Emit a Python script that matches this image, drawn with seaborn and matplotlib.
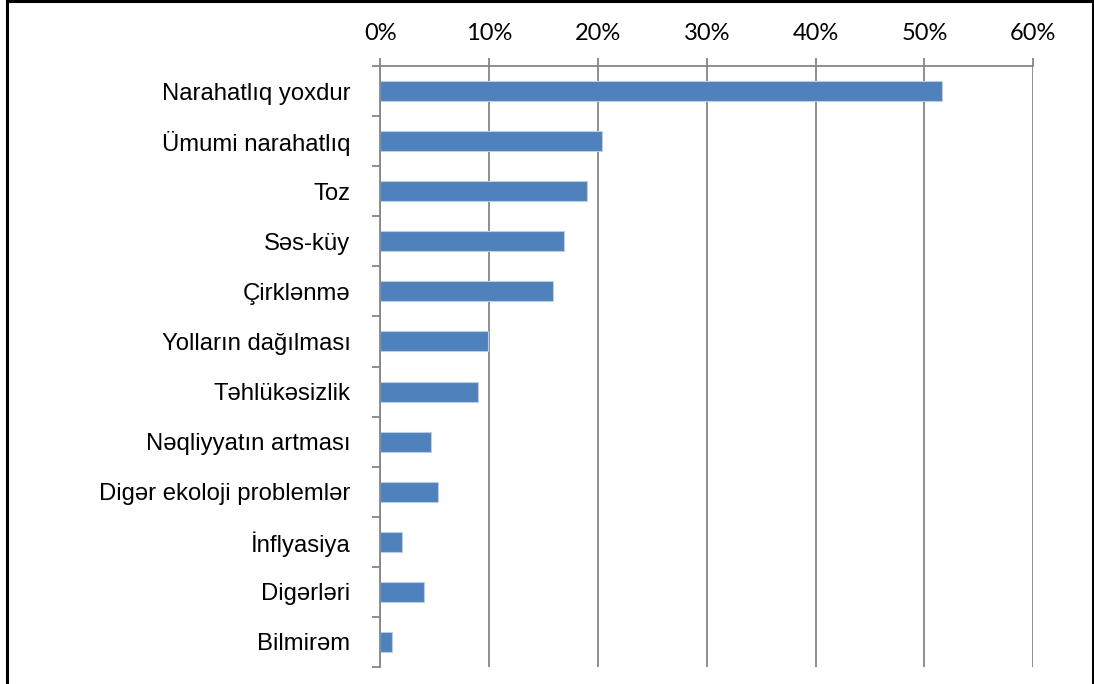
import matplotlib
matplotlib.use("Agg")
import matplotlib.pyplot as plt
import seaborn as sns
import numpy as np
import pandas as pd
from matplotlib.ticker import FixedLocator, PercentFormatter
from matplotlib.lines import Line2D

categories = ["Narahatlıq yoxdur", "Ümumi narahatlıq", "Toz", "Səs-küy", "Çirklənmə",
              "Yolların dağılması", "Təhlükəsizlik", "Nəqliyyatın artması",
              "Digər ekoloji problemlər", "İnflyasiya", "Digərləri", "Bilmirəm"]
values = [51.6, 20.4, 19.0, 16.9, 15.9, 9.9, 9.0, 4.7, 5.3, 2.0, 4.0, 1.1]
xticks = [0, 10, 20, 30, 40, 50, 60]

sns.set_theme(style="white")
plt.rcParams['font.family'] = ['Liberation Sans', 'DejaVu Sans']
plt.rcParams['text.color'] = 'black'
plt.rcParams['xtick.labelcolor'] = 'black'
plt.rcParams['ytick.labelcolor'] = 'black'

df = pd.DataFrame({"cat": categories, "val": values})

fig = plt.figure(figsize=(10.94, 6.84), dpi=100)
ax = fig.add_axes([380.3/1094, 1-667/684, (1033.3-380.3)/1094, (667-66)/684])

sns.barplot(data=df, x="val", y="cat", color="#4F81BD", saturation=1, width=0.4,
            edgecolor="#B9CDE5", linewidth=0.8, ax=ax, orient="h")

grid_c = "#868686"
ax.set_xlim(0, 60)
ax.set_ylim(len(categories) - 0.5, -0.5)
ax.xaxis.set_ticks_position("top")
ax.xaxis.set_label_position("top")
ax.set_xticks(xticks)
ax.xaxis.set_major_formatter(PercentFormatter(decimals=0))
ax.tick_params(axis="x", which="major", direction="out", length=6, width=1.3,
               color=grid_c, pad=10, labelsize=17, labelcolor="black")
for lab in ax.get_xticklabels():
    lab.set_fontfamily(["Lato", "DejaVu Sans"])
ax.grid(axis="x", color=grid_c, linewidth=1.3)
ax.set_axisbelow(True)

ax.yaxis.set_minor_locator(FixedLocator(np.arange(-0.5, len(categories), 1)))
ax.tick_params(axis="y", which="major", length=0, pad=21.5, labelsize=17.2,
               labelcolor="black")
ax.tick_params(axis="y", which="minor", direction="out", length=6, width=1.3,
               color=grid_c, left=True)
ax.set_xlabel("")
ax.set_ylabel("")

for s in ["right", "bottom"]:
    ax.spines[s].set_visible(False)
for s in ["left", "top"]:
    ax.spines[s].set_visible(True)
    ax.spines[s].set_color(grid_c)
    ax.spines[s].set_linewidth(1.3)

# frame: left, top, right (no bottom edge)
xl, xr, yt = 7.0/1094, 1093.0/1094, 1 - 1.0/684
fig.add_artist(Line2D([xl, xl, xr, xr], [0, yt, yt, 0], transform=fig.transFigure,
                      color="black", linewidth=2.2, solid_joinstyle="miter"))

fig.savefig("out.png", dpi=100)
